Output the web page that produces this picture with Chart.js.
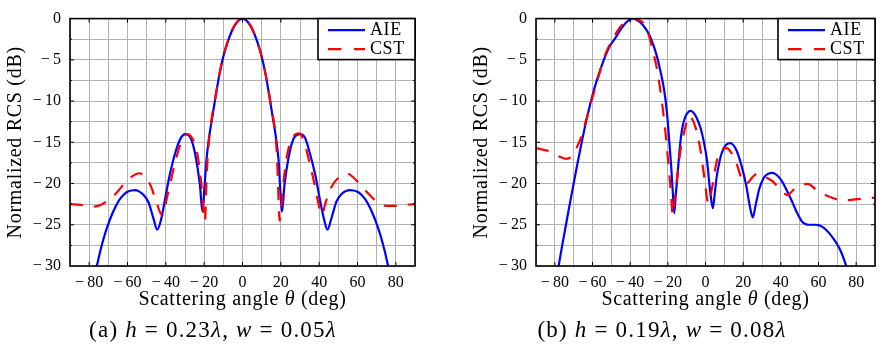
<!DOCTYPE html>
<html><head><meta charset="utf-8">
<script src="https://cdn.jsdelivr.net/npm/chart.js@4.4.0/dist/chart.umd.min.js"></script>
<style>
html,body{margin:0;padding:0;background:#fff;}
#wrap{position:relative;width:882px;height:355px;overflow:hidden;background:#fff;}
canvas{position:absolute;top:0;}
#ca{left:0;} #cb{left:441px;}
</style></head><body>
<div id="wrap"><canvas id="ca" width="441" height="355"></canvas><canvas id="cb" width="441" height="355"></canvas></div>
<script>
// ---- tick labels / legend / texts ----
const xTicks = [-80, -60, -40, -20, 0, 20, 40, 60, 80];
const yTicks = [-30, -25, -20, -15, -10, -5, 0];
const legendLabels = ['AIE', 'CST'];
const xTitle = ['Scattering angle ', 'θ', ' (deg)'];
const yTitle = 'Normalized RCS (dB)';
const captionA = ['(a) ', 'h', ' = 0.23', 'λ', ', ', 'w', ' = 0.05', 'λ'];
const captionB = ['(b) ', 'h', ' = 0.19', 'λ', ', ', 'w', ' = 0.08', 'λ'];

// ---- (a) h = 0.23λ, w = 0.05λ ----
const aieAngleA = [-76, -74, -72, -70, -68, -66, -64, -62, -60, -58, -56, -54, -52, -49, -46.5, -44.5, -42.5, -40.5, -38, -35, -32, -29.8, -27, -24.8, -22.2, -20.9,
                   -19.8, -19, -18, -17, -16, -14, -12, -10, -8, -4, 0, 4, 8, 10, 12, 14, 16, 17, 18, 19, 19.6,
                   20.6, 21.9, 24.5, 27, 30, 32.5, 35, 38, 40.5, 42.5, 44.3, 46.3, 49, 52, 54, 56, 58, 60, 62, 64, 66, 68, 70, 72, 74, 76];
const aieValueA = [-30, -28.0, -26.3, -24.9, -23.7, -22.7, -21.9, -21.35, -21.0, -20.85, -20.8, -20.95, -21.3, -22.3, -24.2, -25.6, -24.4, -22.0, -19.0, -16.2, -14.4, -14.0, -14.5, -16.3, -20.2, -23.4,
                   -20.3, -17.7, -15.4, -13.7, -12.3, -9.4, -6.7, -4.6, -3.0, -0.8, 0, -0.8, -3.0, -4.6, -6.7, -9.4, -12.3, -13.7, -15.4, -17.7, -20.3,
                   -23.4, -20.2, -16.3, -14.4, -14.0, -14.4, -16.2, -19.0, -22.1, -24.3, -25.6, -24.3, -22.2, -21.2, -20.9, -20.8, -20.85, -21.0, -21.35, -21.9, -22.7, -23.7, -24.9, -26.3, -28.0, -30];
const cstAngleA = [-90, -84, -78, -74, -70, -66, -62, -58, -54, -50, -47.5, -45, -41.8, -39.5, -37, -35, -32, -28.8, -26, -23.5, -21.5, -19.6, -18.7, -17.5, -16, -14, -12, -10, -8, -4, 0,
                   4, 8, 10, 12, 14, 16, 17.5, 18.4, 19.3, 21.3, 23.3, 26, 29.4, 32, 35, 37.5, 39.5, 41.3, 43.5, 46, 50, 54.7, 58, 62, 66, 70, 75, 80, 85, 90];
const cstValueA = [-22.5, -22.6, -22.8, -22.6, -22.0, -21.2, -20.1, -19.2, -18.75, -19.3, -20.5, -22.2, -23.9, -21.8, -19.3, -17.3, -15.0, -14.0, -14.6, -16.5, -20.0, -24.6, -19.0, -14.8, -12.0, -9.3, -6.7, -4.6, -3.0, -0.8, 0,
                   -0.8, -3.0, -4.6, -6.7, -9.3, -12.0, -14.8, -19.0, -24.5, -20.0, -16.5, -14.5, -13.9, -14.8, -17.5, -20.0, -22.3, -23.8, -22.2, -20.6, -19.3, -18.8, -19.3, -20.3, -21.3, -22.2, -22.7, -22.7, -22.6, -22.5];

// ---- (b) h = 0.19λ, w = 0.08λ ----
const aieAngleB = [-78, -76, -74, -72, -70, -68, -66, -64, -62, -60, -58, -56, -54, -51, -48, -45, -42, -40, -38.3, -36, -34, -32, -30, -28, -26, -24, -22, -20.5, -19.2, -18.2, -17.4, -16.6,
                   -15.8, -14.9, -14, -13.1, -12, -10.5, -9, -7.9, -6.5, -5, -2.7, -1, 0.8, 2.5, 3.9,
                   5, 6, 7.2, 8.6, 10.5, 12, 13.3, 15, 16.5, 18.2, 20, 21.6, 23.5, 25.1,
                   26.8, 28.6, 30.5, 32.1, 34, 35.6, 38, 40.8, 43.5, 46, 48.5, 51.2, 53, 55, 58, 60, 62, 64, 66, 68, 70, 72, 74, 75];
const aieValueB = [-30, -27.4, -24.9, -22.4, -20.0, -17.6, -15.3, -13.1, -11.1, -9.3, -7.7, -6.3, -5.0, -3.4, -2.4, -1.3, -0.45, -0.1, 0, -0.25, -0.6, -1.15, -1.9, -3.0, -4.4, -6.3, -8.6, -11.3, -15.0, -18.0, -20.9, -23.6,
                   -21.4, -19.1, -16.6, -14.5, -12.9, -11.8, -11.3, -11.2, -11.4, -11.9, -13.2, -14.8, -17.2, -21.0, -23.0,
                   -21.0, -19.1, -17.6, -16.3, -15.4, -15.15, -15.1, -15.4, -16.0, -17.1, -18.6, -20.2, -22.7, -24.1,
                   -22.4, -20.6, -19.5, -19.0, -18.75, -18.7, -19.0, -19.8, -21.0, -22.2, -23.5, -24.6, -24.9, -25.0, -25.0, -25.05, -25.25, -25.6, -26.1, -26.7, -27.4, -28.3, -29.5, -30.2];
const cstAngleB = [-90, -86, -82.7, -78, -74, -71.5, -69, -66.2, -64, -61.8, -58.3, -55.5, -53.1, -50, -46.2, -42, -38.3, -35, -32.2, -30.5, -28.8, -25.3, -23.5, -21.8, -20.5, -19.2, -18.2, -17.5, -16.3, -14.9, -13.1, -10.5, -8.8, -7, -5, -2.7, -0.5, 1.5, 3.5, 5.5, 6.9, 9, 11.5, 13.5, 16.4, 18.5, 20.4, 22.5, 25, 27.6, 30, 32.5, 35.6, 39, 42.5, 43.5, 47, 51, 54.4, 58, 62, 66.9, 72.1, 76, 80, 86, 90];
const cstValueB = [-15.7, -15.9, -16.1, -16.7, -17.0, -16.8, -15.9, -14.5, -12.8, -11.0, -8.2, -6.0, -4.3, -2.8, -1.3, -0.3, 0, -0.2, -0.75, -1.7, -3.1, -6.7, -9.5, -12.6, -15.6, -18.9, -21.5, -23.8, -21.8, -18.9, -15.7, -13.0, -11.8, -12.2, -13.4, -15.9, -19.5, -22.4, -20.5, -17.8, -16.5, -15.8, -15.7, -16.2, -17.5, -19.0, -20.0, -19.9, -19.2, -18.8, -19.0, -19.3, -19.7, -20.6, -21.3, -21.4, -20.7, -20.2, -20.05, -20.6, -21.2, -21.7, -22.0, -22.0, -21.9, -21.8, -21.7];

const SERIF = '"Liberation Serif", "Times New Roman", serif';
const BLUE = '#0000ff', RED = '#ff0000';
const DASH = [13, 11];

function pts(xs, ys) { return xs.map((x, i) => ({ x: x, y: ys[i] })); }
function fmt(v) { return v < 0 ? '\u2212\u2009' + Math.abs(v) : String(v); }

function drawSegs(ctx, segs, cx, cy, size, spacing) {
  const fonts = segs.map((s, i) => (i % 2 === 1 ? 'italic ' : '') + size + 'px ' + SERIF);
  ctx.letterSpacing = spacing + 'px';
  const widths = segs.map((s, i) => { ctx.font = fonts[i]; return ctx.measureText(s).width; });
  const total = widths.reduce((a, b) => a + b, 0);
  let x = cx - total / 2;
  ctx.textAlign = 'left'; ctx.textBaseline = 'middle'; ctx.fillStyle = '#000';
  segs.forEach((s, i) => { ctx.font = fonts[i]; ctx.fillText(s, x, cy); x += widths[i]; });
  ctx.letterSpacing = '0px';
}

function makeDecor(cfg) {
  return {
    id: 'decor',
    afterDatasetsDraw(chart) {
      const ctx = chart.ctx, a = chart.chartArea, xs = chart.scales.x, ys = chart.scales.y;
      ctx.save();
      ctx.strokeStyle = '#000'; ctx.lineWidth = 1;
      ctx.beginPath();
      xTicks.forEach(v => { const p = xs.getPixelForValue(v);
        ctx.moveTo(p, a.bottom); ctx.lineTo(p, a.bottom - 4);
        ctx.moveTo(p, a.top); ctx.lineTo(p, a.top + 4); });
      for (let v = -27.5; v < 0; v += 2.5) {
        const p = ys.getPixelForValue(v), L = yTicks.includes(v) ? 4 : 2;
        ctx.moveTo(a.left, p); ctx.lineTo(a.left + L, p);
        ctx.moveTo(a.right, p); ctx.lineTo(a.right - L, p);
      }
      ctx.stroke();
      ctx.lineWidth = 1.6;
      ctx.strokeRect(a.left, a.top, a.right - a.left, a.bottom - a.top);
      // legend
      const bw = 97, bh = 41, bx = a.right - bw, by = a.top;
      ctx.fillStyle = '#fff';
      ctx.fillRect(bx, by, bw, bh);
      ctx.strokeRect(bx, by, bw, bh);
      ctx.lineWidth = 2.2;
      ctx.strokeStyle = BLUE; ctx.setLineDash([]);
      ctx.beginPath(); ctx.moveTo(bx + 10, by + 11.5); ctx.lineTo(bx + 47, by + 11.5); ctx.stroke();
      ctx.strokeStyle = RED; ctx.setLineDash([13.5, 12.5]);
      ctx.beginPath(); ctx.moveTo(bx + 10, by + 30.5); ctx.lineTo(bx + 47, by + 30.5); ctx.stroke();
      ctx.setLineDash([]);
      ctx.fillStyle = '#000'; ctx.font = '18px ' + SERIF; ctx.letterSpacing = '0.6px';
      ctx.textAlign = 'left'; ctx.textBaseline = 'middle';
      ctx.fillText(legendLabels[0], bx + 52, by + 12);
      ctx.fillText(legendLabels[1], bx + 52, by + 31);
      ctx.letterSpacing = '0px';
      // y title
      ctx.save();
      ctx.translate(cfg.yTitleX, (a.top + a.bottom) / 2);
      ctx.rotate(-Math.PI / 2);
      ctx.font = '20px ' + SERIF; ctx.letterSpacing = '0.7px';
      ctx.textAlign = 'center'; ctx.textBaseline = 'middle';
      ctx.fillText(yTitle, 0, 0);
      ctx.restore();
      // x title (middle segment italic)
      drawSegs(ctx, xTitle, (a.left + a.right) / 2, 300, 20, 0.7);
      // caption
      drawSegs(ctx, cfg.caption, cfg.captionX, 331, 23, 1.2);
      ctx.restore();
    }
  };
}

function build(id, aieX, aieY, cstX, cstY, axisW, padRight, cfg) {
  return new Chart(document.getElementById(id), {
    type: 'line',
    data: { datasets: [
      { label: legendLabels[0], data: pts(aieX, aieY), borderColor: BLUE, borderWidth: 2.2, pointRadius: 0, cubicInterpolationMode: 'monotone', fill: false, order: 2 },
      { label: legendLabels[1], data: pts(cstX, cstY), borderColor: RED, borderWidth: 2.2, borderDash: DASH, pointRadius: 0, cubicInterpolationMode: 'monotone', fill: false, order: 1 }
    ] },
    options: {
      responsive: false, animation: false, devicePixelRatio: 1,
      layout: { padding: { left: 0, right: padRight, top: 12, bottom: 0 } },
      plugins: { legend: { display: false }, tooltip: { enabled: false } },
      scales: {
        x: { type: 'linear', min: -90, max: 90, afterFit: s => { s.height = 89; },
             ticks: { stepSize: 10, autoSkip: false, maxRotation: 0, padding: 7, color: '#000', font: { family: SERIF, size: 16 },
                      callback: v => xTicks.includes(v) ? fmt(v) : '' },
             grid: { color: '#b3b3b3', lineWidth: 1, drawTicks: false }, border: { display: false } },
        y: { type: 'linear', min: -30, max: 0, afterFit: s => { s.width = axisW; },
             ticks: { stepSize: 2.5, autoSkip: false, padding: 9, color: '#000', font: { family: SERIF, size: 16 },
                      callback: v => yTicks.includes(v) ? fmt(v) : '' },
             grid: { color: '#b3b3b3', lineWidth: 1, drawTicks: false }, border: { display: false } }
      }
    },
    plugins: [makeDecor(cfg)]
  });
}

build('ca', aieAngleA, aieValueA, cstAngleA, cstValueA, 70, 26, { yTitleX: 16, captionX: 213, caption: captionA });
build('cb', aieAngleB, aieValueB, cstAngleB, cstValueB, 95, 1, { yTitleX: 40.5, captionX: 221, caption: captionB });
</script>
</body></html>
